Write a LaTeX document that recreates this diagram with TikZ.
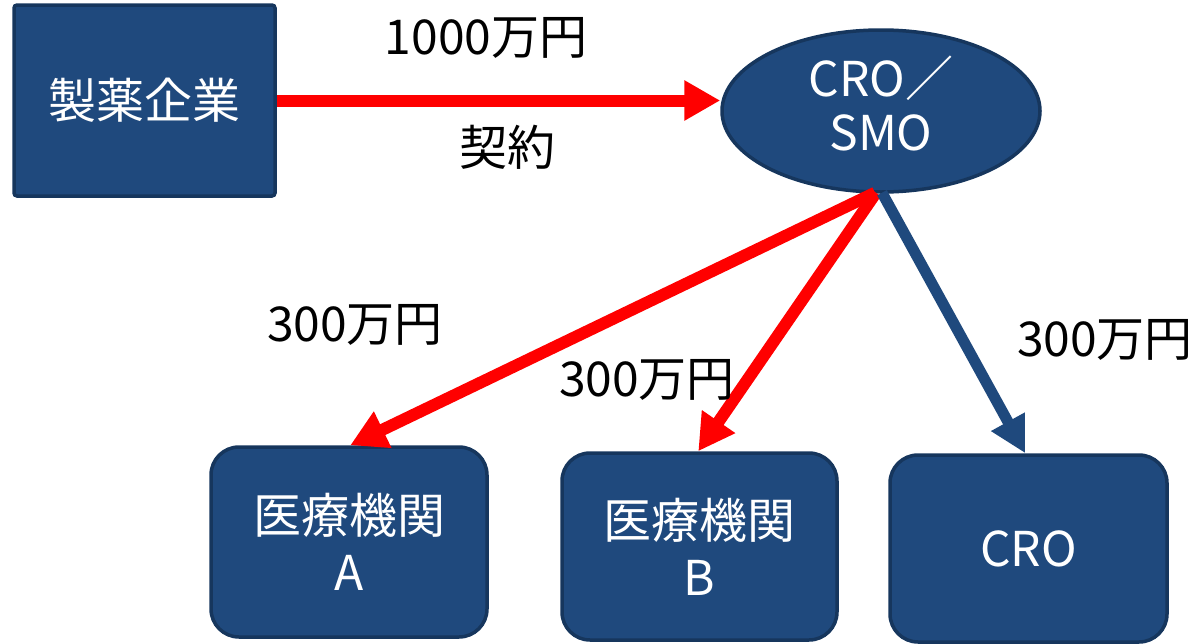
\documentclass[tikz,border=0pt]{standalone}
\usepackage{fontspec}
\setmainfont{Noto Sans CJK JP}
\usetikzlibrary{arrows.meta,shapes.geometric}
\definecolor{boxfill}{RGB}{31,73,125}
\definecolor{boxline}{RGB}{22,54,93}
\definecolor{arrred}{RGB}{255,0,0}
\tikzset{
  x=1pt,y=-1pt,
  bigtext/.style={font=\fontsize{48}{57}\selectfont},
  sqbox/.style={draw=boxline,line width=3.5pt,fill=boxfill,text=white,rounded corners=3pt,
    inner sep=0pt,bigtext,align=center},
  rbox/.style={sqbox,rounded corners=28pt},
  ell/.style={ellipse,draw=boxline,line width=3.5pt,fill=boxfill,text=white,inner sep=0pt},
  redarr/.style={draw=arrred,line width=12pt,-{Triangle[length=36pt,width=38pt]}},
  bluearr/.style={draw=boxfill,line width=11pt,-{Triangle[length=36pt,width=36pt]}},
  lbl/.style={bigtext,text=black,inner sep=0pt}
}
\begin{document}
\begin{tikzpicture}
\useasboundingbox (0,0) rectangle (1200,643);
\node[sqbox,minimum width=261pt,minimum height=191pt] (mfr) at (144.5,100.5) {製薬企業};
\node[ell,minimum width=318pt,minimum height=162pt] (smo) at (881,111) {};
\node[bigtext,text=white,align=center,inner sep=0pt] (smotext) at ([yshift=7pt]smo.center) {CRO／\\[-3pt]SMO};
\node[rbox,minimum width=276pt,minimum height=190pt] (ba) at (349,542) {医療機関\\A};
\node[rbox,minimum width=275pt,minimum height=187pt] (bb) at (699.5,546.5) {医療機関\\B};
\node[rbox,minimum width=277pt,minimum height=187pt] (bc) at (1028.5,548.5) {CRO};

\coordinate (tA) at ([xshift=141pt]ba.north west);
\coordinate (tB) at ([xshift=138pt]bb.north west);
\coordinate (tC) at ([xshift=137pt]bc.north west);
\coordinate (s1) at ([xshift=-6pt,yshift=1pt]smo.south);
\coordinate (s2) at ([xshift=-5pt,yshift=1pt]smo.south);
\coordinate (s3) at ([xshift=1pt,yshift=1pt]smo.south);

\draw[redarr] (mfr.east) -- (smo.west |- mfr.east);
\draw[redarr] (s1) -- (tA);
\draw[redarr] (s2) -- (tB);
\draw[bluearr] (s3) -- (tC);

\node[lbl] (l1) at (486,38) {1000万円};
\node[lbl] (l2) at (507,147) {契約};
\node[lbl] (l3) at (355,325) {300万円};
\node[lbl] (l4) at (647,380) {300万円};
\node[lbl] (l5) at (1105,340) {300万円};
\end{tikzpicture}
\end{document}
